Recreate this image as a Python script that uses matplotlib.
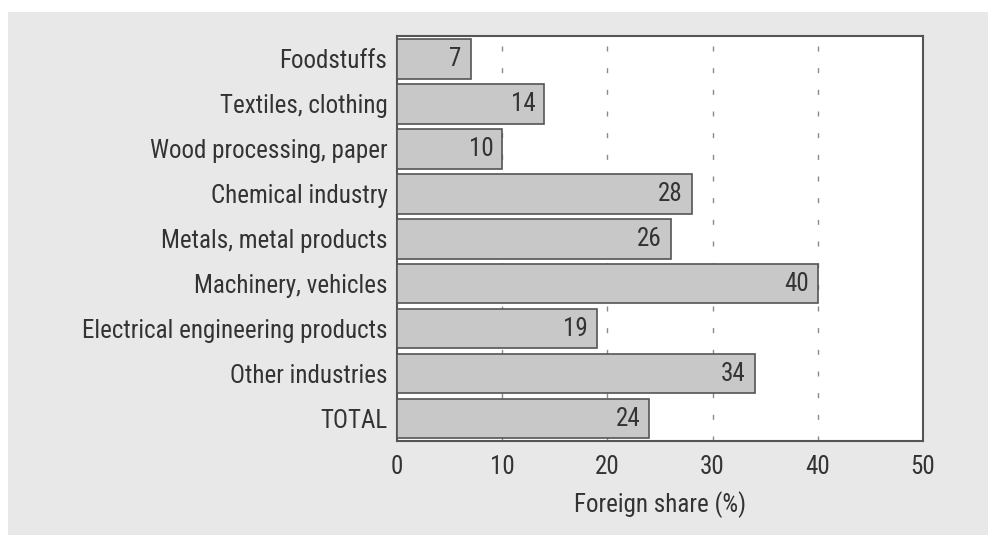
import matplotlib
matplotlib.use("Agg")
import matplotlib.pyplot as plt
from matplotlib.patches import Rectangle

categories = [
    "Foodstuffs",
    "Textiles, clothing",
    "Wood processing, paper",
    "Chemical industry",
    "Metals, metal products",
    "Machinery, vehicles",
    "Electrical engineering products",
    "Other industries",
    "TOTAL",
]
shares = [7, 14, 10, 28, 26, 40, 19, 34, 24]
x_ticks = [0, 10, 20, 30, 40, 50]
x_label = "Foreign share (%)"

FONT = ["Roboto Condensed", "DejaVu Sans"]
FS = 18
WEIGHT = "normal"
TEXT = "#333333"
EDGE = "#555555"

fig = plt.figure(figsize=(9.88, 5.35), dpi=100, facecolor="white")
# light grey panel behind the chart
fig.patches.append(Rectangle((8 / 988, 0), 1, (535 - 12) / 535,
                             transform=fig.transFigure, facecolor="#e8e8e8",
                             edgecolor="none", zorder=-10))

ax = fig.add_axes([397 / 988, 1 - 441 / 535, (923 - 397) / 988, (441 - 36) / 535])
ax.set_facecolor("white")

y = list(range(len(categories)))
ax.barh(y, shares, height=0.88, color="#c8c8c8", edgecolor=EDGE,
        linewidth=1.2, zorder=3)

for yi, v in zip(y, shares):
    ax.text(v - 0.85, yi, str(v), ha="right", va="center", fontsize=FS,
            family=FONT, weight=WEIGHT, color=TEXT, zorder=4)

for gx in x_ticks[1:-1]:
    ax.axvline(gx, color="#8a8a8a", linewidth=1.0, linestyle=(0, (3.6, 12)), zorder=1)

ax.set_xlim(0, 50)
ax.set_ylim(8.5, -0.51)
ax.set_xticks(x_ticks)
ax.set_xticklabels([str(t) for t in x_ticks], family=FONT, fontsize=FS,
                   weight=WEIGHT, color=TEXT)
ax.set_yticks(y)
ax.set_yticklabels(categories, family=FONT, fontsize=FS, weight=WEIGHT, color=TEXT)
ax.tick_params(axis="x", length=0, pad=10)
ax.tick_params(axis="y", length=0, pad=7)
ax.set_xlabel(x_label, family=FONT, fontsize=FS, weight=WEIGHT, color=TEXT, labelpad=9)

for s in ax.spines.values():
    s.set_color(EDGE)
    s.set_linewidth(1.5)

fig.savefig("out.png", dpi=100, facecolor=fig.get_facecolor())
